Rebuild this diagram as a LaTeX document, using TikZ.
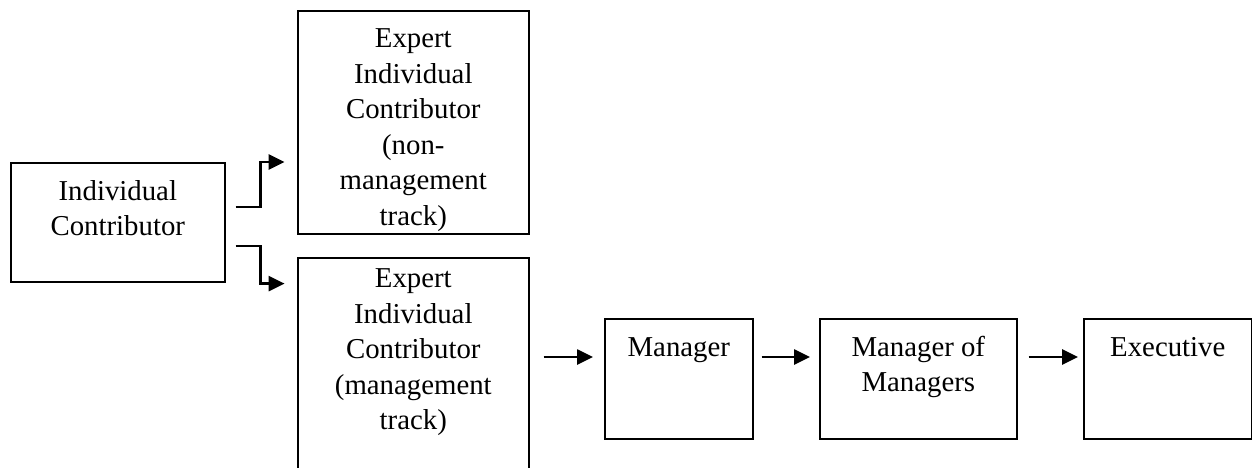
\documentclass[tikz,border=0pt]{standalone}
\usepackage{fontspec}
\setmainfont{Liberation Serif}
\usetikzlibrary{arrows.meta,calc}

\newcommand{\boxtext}[4]{\parbox[b][#1][t]{#2}{\centering\vspace*{#3}\strut #4\par}}
\tikzset{box/.style={draw, line width=1.6pt, inner sep=0pt, anchor=north west},
arr/.style={line width=2.6pt, -{Triangle[length=16pt,width=15pt]}}}

\begin{document}
\begin{tikzpicture}[x=1pt,y=-1pt,font=\fontsize{28.8}{35.5}\selectfont]
\clip (0,0) rectangle (1252,468);
\node [box, at={(10,162)}] (ic) {\boxtext{119pt}{214pt}{12.5pt}{Individual\\Contributor}};
\node [box, at={(297,10)}] (expnon) {\boxtext{223pt}{231pt}{12pt}{Expert\\Individual\\Contributor\\(non-\\management\\track)}};
\node [box, at={(297,257)}] (expmgt) {\boxtext{240pt}{231pt}{5pt}{Expert\\Individual\\Contributor\\(management\\track)}};
    \node [box, at={(604,318)}] (mgr) {\boxtext{120pt}{148pt}{12.5pt}{Manager}};
    \node [box, at={(819,318)}] (mom) {\boxtext{120pt}{197pt}{12.5pt}{Manager of\\Managers}};
    \node [box, at={(1083,318)}] (exec) {\boxtext{120pt}{168pt}{12.5pt}{Executive}};
% the two tracks
\draw [arr] ($(ic.north east)+(10,45)$) -| ($(ic.north east)+(35,0)$) -- ($(ic.north east)+(59,0)$);
\draw [arr] ($(ic.north east)+(10,84)$) -| ($(ic.south east)+(35,1)$) -- ($(ic.south east)+(59,1)$);
% up the management ladder
\draw [arr] ($(expmgt.east |- mgr.north)+(14,39)$) -- ($(mgr.north west)+(-11,39)$);
\draw [arr] ($(mgr.north east)+(8,39)$) -- ($(mom.north west)+(-9,39)$);
\draw [arr] ($(mom.north east)+(11,39)$) -- ($(exec.north west)+(-5,39)$);
\end{tikzpicture}
\end{document}
